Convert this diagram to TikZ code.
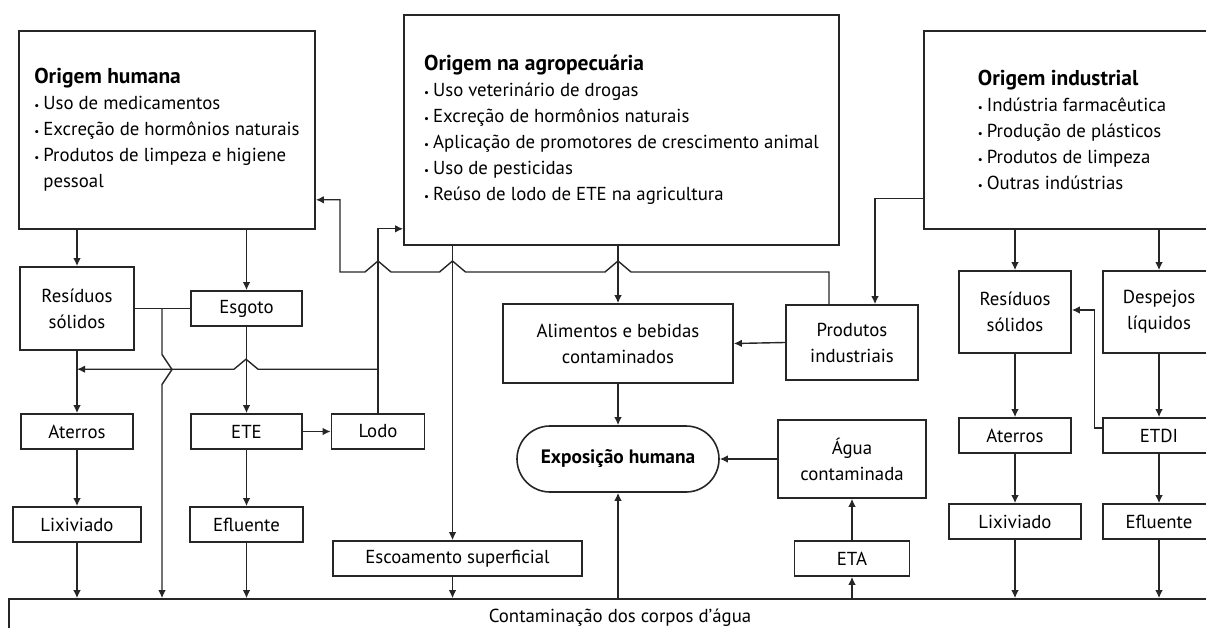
\documentclass[tikz,border=0pt]{standalone}
\usepackage{fontspec}
\setmainfont{PT Sans}
\usetikzlibrary{arrows.meta}

\tikzset{
  box/.style={draw=black!85, line width=1.6pt, inner sep=0pt, align=center, minimum height=35pt},
  wire/.style={draw=black!85, line width=1.4pt},
}
\newcommand{\itm}{\makebox[9pt][l]{\raisebox{0.5pt}{\fontsize{11}{11}\selectfont\textbullet}}}
\newcommand{\titulo}[1]{{\fontsize{21.5}{26}\selectfont\bfseries #1}}

\begin{document}
\begin{tikzpicture}[>={Latex[length=8pt,width=7.5pt]}, x=1pt, y=-1pt, font=\fontsize{18.8}{26}\selectfont]
\path[use as bounding box] (0,0) rectangle (1206,628);
\clip (0,0) rectangle (1206,628);

% origens
\node[box, align=left, minimum width=296pt, minimum height=198pt] (ohum) at (167,130)
  {\titulo{Origem humana}\\ \itm Uso de medicamentos\\ \itm Excreção de hormônios naturais\\
   \itm Produtos de limpeza e higiene\\ \hspace*{9pt}pessoal};
\node[box, align=left, minimum width=435pt, minimum height=230pt] (oagr) at (621.5,130)
  {\titulo{Origem na agropecuária}\\ \itm Uso veterinário de drogas\\ \itm Excreção de hormônios naturais\\
   \itm Aplicação de promotores de crescimento animal\\ \itm Uso de pesticidas\\
   \itm Reúso de lodo de ETE na agricultura};
\node[box, align=left, minimum width=296pt, minimum height=198pt] (oind) at (1072,130)
  {\titulo{Origem industrial}\\ \itm Indústria farmacêutica\\ \itm Produção de plásticos\\
   \itm Produtos de limpeza\\ \itm Outras indústrias};

% lado humano
\node[box, minimum width=114pt, minimum height=83pt] (resh) at (77,308.5) {Resíduos\\sólidos};
\node[box, minimum width=111pt] (esg) at (246.5,308.5) {Esgoto};
\node[box, minimum width=112pt] (ateh) at (77,431.5) {Aterros};
\node[box, minimum width=111pt] (ete) at (246.5,431.5) {ETE};
\node[box, minimum width=93pt] (lodo) at (378,431.5) {Lodo};
\node[box, minimum width=128pt] (lixh) at (77,524.5) {Lixiviado};
\node[box, minimum width=113pt] (eflh) at (246.5,524.5) {Efluente};
\node[box, minimum width=249pt] (esc) at (457.5,558.5) {Escoamento superficial};

% centro
\node[box, minimum width=230pt, minimum height=79pt] (alim) at (618,343.5) {Alimentos e bebidas\\contaminados};
\node[box, rounded corners=33pt, minimum width=202pt, minimum height=66pt] (expo) at (618,459)
  {\fontsize{19.4}{26}\selectfont\bfseries Exposição humana};
\node[box, minimum width=132pt, minimum height=75pt] (prod) at (852,342.5) {Produtos\\industriais};
\node[box, minimum width=148pt, minimum height=78pt] (agua) at (852,459) {Água\\contaminada};
\node[box, minimum width=115pt] (eta) at (852,558.5) {ETA};

% lado industrial
\node[box, minimum width=112pt, minimum height=82pt] (resi) at (1015,312) {Resíduos\\sólidos};
\node[box, minimum width=112pt, minimum height=82pt] (desp) at (1159,312) {Despejos\\líquidos};
\node[box, minimum width=112pt] (atei) at (1015,435.5) {Aterros};
\node[box, minimum width=112pt] (etdi) at (1159,435.5) {ETDI};
\node[box, minimum width=132pt] (lixi) at (1015,521.5) {Lixiviado};
\node[box, minimum width=112pt] (efli) at (1159,521.5) {Efluente};

\node[box, minimum width=1222pt, minimum height=37pt] (corpos) at (620,617.5) {Contaminação dos corpos d’água};

\coordinate (jlodo) at ([yshift=44]lodo.north);
\coordinate (jres) at (162,308.5);

% ligacoes
\draw[wire,->] (resh.north |- ohum.south) -- (resh.north);
\draw[wire,->] (esg.north |- ohum.south) -- (esg.north);
\draw[wire] (resh.east) -- (esg.west);
\draw[wire,->] (resh.south) -- (ateh.north);
\draw[wire,->] (ateh.south) -- (lixh.north);
\draw[wire,->] (esg.south) -- (ete.north);
\draw[wire,->] (ete.south) -- (eflh.north);
\draw[wire,->] (ete.east) -- (lodo.west);
\draw[wire,->] (lodo.north) |- ([yshift=17]oagr.south west);
\draw[wire,->] (jlodo) -- ++(-120,0) -- ++(-12,-10) -- ++(-12,10) -- (resh.south |- jlodo);
\draw[wire,->] (jres) -- ++(0,46) -- ++(10,15) -- ++(-10,15) -- (jres |- corpos.north);
\draw[wire,->] ([xshift=-23]prod.north) |- (631,272) -- ++(-13,-11) -- ++(-13,11)
  -- (465.5,272) -- ++(-13,-11) -- ++(-13,11) -- (391,272) -- ++(-13,-11) -- ++(-13,11)
  -- (340,272) |- ([yshift=30]ohum.south east);
\draw[wire,->] ([xshift=-5]esc.north |- oagr.south) -- ([xshift=-5]esc.north);
\draw[wire,->] (alim.north |- oagr.south) -- (alim.north);
\draw[wire,->] (prod.west) -- (alim.east);
\draw[wire,->] (alim.south) -- (expo.north);
\draw[wire,->] (agua.west) -- (expo.east);
\draw[wire,->] (eta.north) -- (agua.south);
\draw[wire,->] ([yshift=31]oind.south west) -| ([xshift=23]prod.north);
\draw[wire,->] (resi.north |- oind.south) -- (resi.north);
\draw[wire,->] (desp.north |- oind.south) -- (desp.north);
\draw[wire,->] (resi.south) -- (atei.north);
\draw[wire,->] (atei.south) -- (lixi.north);
\draw[wire,->] (desp.south) -- (etdi.north);
\draw[wire,->] (etdi.south) -- (efli.north);
\draw[wire,->] ([yshift=7.5]etdi.west) -- ++(-8,0) |- ([yshift=2]resi.east);

% para os corpos d'agua
\foreach \n in {lixh,eflh,lixi,efli}
  \draw[wire,->] (\n.south) -- (\n.south |- corpos.north);
\draw[wire,->] ([xshift=-5]esc.south) -- ([xshift=-5]esc.south |- corpos.north);
\draw[wire,->] (expo.south |- corpos.north) -- (expo.south);
\draw[wire,->] (eta.south |- corpos.north) -- (eta.south);

\end{tikzpicture}
\end{document}
